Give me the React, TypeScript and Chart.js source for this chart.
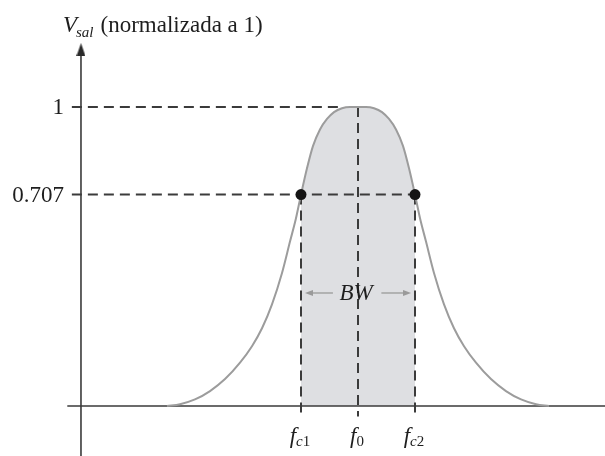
import React, { useEffect, useRef } from 'react';
import { Chart, registerables } from 'chart.js';

Chart.register(...registerables);

// ---- data (frequency in arbitrary units, output normalised to 1) ----
const CURVE_F = [1.649, 1.877, 2.14, 2.404, 2.667, 2.93, 3.14, 3.316, 3.491, 3.667, 3.807, 3.912, 4.0, 4.105, 4.211, 4.333, 4.456, 4.579, 4.719, 4.86, 5.0,
  5.14, 5.281, 5.421, 5.544, 5.667, 5.789, 5.895, 6.0, 6.088, 6.193, 6.333, 6.509, 6.684, 6.86, 7.07, 7.333, 7.596, 7.86, 8.123, 8.351];
const CURVE_V = [0, 0.006, 0.022, 0.05, 0.09, 0.145, 0.2, 0.26, 0.34, 0.445, 0.55, 0.628, 0.707, 0.795, 0.87, 0.925, 0.96, 0.983, 0.996, 1.0, 1.0,
  1.0, 0.996, 0.983, 0.96, 0.925, 0.87, 0.795, 0.707, 0.628, 0.55, 0.445, 0.34, 0.26, 0.2, 0.145, 0.09, 0.05, 0.022, 0.006, 0];

const FC1 = 4;
const F0 = 5;
const FC2 = 6;
const PEAK = 1;
const HALF_POWER = 0.707;
const PEAK_REACH_F = 4.75;
const Y_TICKS = [1, 0.707];
const Y_TICK_LABELS = ['1', '0.707'];
const X_MARKS = [FC1, F0, FC2];
const X_LABEL_BASE = ['f', 'f', 'f'];
const X_LABEL_SUB_ITALIC = ['c', '', 'c'];
const X_LABEL_SUB_ROMAN = ['1', '0', '2'];
const BW_LEVEL = 0.378;
const BW_ARROW_F = [4.14, 4.56, 5.41, 5.86];
const TITLE_MAIN = 'V';
const TITLE_SUB = 'sal';
const TITLE_REST = '(normalizada a 1)';

// ---- axis geometry (view window) ----
const AXIS_F = 0.14;
const X_MIN = -1.2807;
const X_MAX = 9.3333;
const Y_MIN = -0.1672;
const Y_MAX = 1.3579;
const ARROW_V = 1.192;
const DASH_START_F = -0.02;
const DASH_BELOW = -0.035;
const XAXIS_START = -0.1;

const SERIF = '"Liberation Serif", "Times New Roman", serif';

function makeArrow(w: number, h: number, dir: 'up' | 'left' | 'right', color: string) {
  const c = document.createElement('canvas');
  c.width = w;
  c.height = h;
  const g = c.getContext('2d')!;
  g.fillStyle = color;
  g.beginPath();
  if (dir === 'up') {
    g.moveTo(w / 2, 0);
    g.lineTo(w, h);
    g.lineTo(0, h);
  } else if (dir === 'left') {
    g.moveTo(0, h / 2);
    g.lineTo(w, 0);
    g.lineTo(w, h);
  } else {
    g.moveTo(w, h / 2);
    g.lineTo(0, 0);
    g.lineTo(0, h);
  }
  g.closePath();
  g.fill();
  return c;
}

const textPlugin = {
  id: 'schematicText',
  afterDraw(chart: any) {
    const { ctx } = chart;
    const xs = chart.scales.x;
    const ys = chart.scales.y;
    const ax = xs.getPixelForValue(AXIS_F);
    ctx.save();
    ctx.fillStyle = '#1e1e1e';

    // y tick labels
    ctx.font = `23px ${SERIF}`;
    ctx.textAlign = 'right';
    ctx.textBaseline = 'middle';
    Y_TICKS.forEach((v, i) => {
      ctx.fillText(Y_TICK_LABELS[i], ax - 17, ys.getPixelForValue(v) + 1);
    });

    // title
    ctx.textAlign = 'left';
    ctx.textBaseline = 'alphabetic';
    let tx = ax - 18;
    const tBase = 32;
    ctx.font = `italic 23px ${SERIF}`;
    ctx.fillText(TITLE_MAIN, tx, tBase);
    tx += ctx.measureText(TITLE_MAIN).width - 1;
    ctx.font = `italic 15px ${SERIF}`;
    ctx.fillText(TITLE_SUB, tx, tBase + 5);
    tx += ctx.measureText(TITLE_SUB).width + 7;
    ctx.font = `23px ${SERIF}`;
    ctx.fillText(TITLE_REST, tx, tBase);

    // x labels
    const xBase = ys.getPixelForValue(0) + 37;
    X_MARKS.forEach((f, i) => {
      ctx.font = `italic 23px ${SERIF}`;
      const w0 = ctx.measureText(X_LABEL_BASE[i]).width;
      ctx.font = `italic 15px ${SERIF}`;
      const w1 = ctx.measureText(X_LABEL_SUB_ITALIC[i]).width;
      ctx.font = `15px ${SERIF}`;
      const w2 = ctx.measureText(X_LABEL_SUB_ROMAN[i]).width;
      const total = w0 + w1 + w2;
      let px = xs.getPixelForValue(f) - total / 2 - 1;
      ctx.font = `italic 23px ${SERIF}`;
      ctx.fillText(X_LABEL_BASE[i], px, xBase);
      px += w0;
      ctx.font = `italic 15px ${SERIF}`;
      ctx.fillText(X_LABEL_SUB_ITALIC[i], px, xBase + 3);
      px += w1;
      ctx.font = `15px ${SERIF}`;
      ctx.fillText(X_LABEL_SUB_ROMAN[i], px, xBase + 3);
    });

    // BW label
    ctx.font = `italic 23px ${SERIF}`;
    ctx.textAlign = 'center';
    ctx.textBaseline = 'middle';
    ctx.fillText('BW', xs.getPixelForValue(F0) - 2, ys.getPixelForValue(BW_LEVEL) + 1);
    ctx.restore();
  },
};

export default function App() {
  const ref = useRef<HTMLCanvasElement>(null);

  useEffect(() => {
    const curve = CURVE_F.map((f, i) => ({ x: f, y: CURVE_V[i] }));
    const band = curve.filter((p) => p.x >= FC1 && p.x <= FC2);
    const dashStyle = {
      borderColor: '#3b3b3b',
      borderWidth: 2,
      borderDash: [10, 6],
      pointRadius: 0,
      fill: false,
      order: 3,
    };
    const axisStyle = { borderColor: '#3a3a3a', borderWidth: 1.6, pointRadius: 0, fill: false, order: 4 };
    const bwStyle = { borderColor: '#a3a3a3', borderWidth: 1.5, pointRadius: 0, fill: false, order: 3 };

    const chart = new Chart(ref.current!, {
      type: 'line',
      data: {
        datasets: [
          {
            label: 'half-power points',
            data: [
              { x: FC1, y: HALF_POWER },
              { x: FC2, y: HALF_POWER },
            ],
            showLine: false,
            pointRadius: 5.5,
            pointBackgroundColor: '#141414',
            pointBorderWidth: 0,
            order: 0,
          },
          {
            label: 'response',
            data: curve,
            borderColor: '#9c9c9c',
            borderWidth: 2,
            pointRadius: 0,
            cubicInterpolationMode: 'monotone',
            fill: false,
            order: 2,
          },
          { label: 'peak-h', data: [{ x: DASH_START_F, y: PEAK }, { x: PEAK_REACH_F, y: PEAK }], ...dashStyle },
          { label: 'hp-h', data: [{ x: DASH_START_F, y: HALF_POWER }, { x: FC2, y: HALF_POWER }], ...dashStyle },
          { label: 'fc1-v', data: [{ x: FC1, y: HALF_POWER }, { x: FC1, y: DASH_BELOW }], ...dashStyle },
          { label: 'f0-v', data: [{ x: F0, y: PEAK }, { x: F0, y: DASH_BELOW }], ...dashStyle },
          { label: 'fc2-v', data: [{ x: FC2, y: HALF_POWER }, { x: FC2, y: DASH_BELOW }], ...dashStyle },
          { label: 'x-axis', data: [{ x: XAXIS_START, y: 0 }, { x: X_MAX, y: 0 }], ...axisStyle },
          { label: 'y-axis', data: [{ x: AXIS_F, y: Y_MIN }, { x: AXIS_F, y: ARROW_V }], ...axisStyle },
          {
            label: 'y-arrow',
            data: [{ x: AXIS_F, y: ARROW_V }],
            showLine: false,
            pointRadius: 6,
            pointStyle: makeArrow(9, 13, 'up', '#2a2a2a'),
            order: 1,
          },
          { label: 'bw-l', data: [{ x: BW_ARROW_F[0], y: BW_LEVEL }, { x: BW_ARROW_F[1], y: BW_LEVEL }], ...bwStyle },
          { label: 'bw-r', data: [{ x: BW_ARROW_F[2], y: BW_LEVEL }, { x: BW_ARROW_F[3], y: BW_LEVEL }], ...bwStyle },
          {
            label: 'bw-heads',
            data: [
              { x: BW_ARROW_F[0], y: BW_LEVEL },
              { x: BW_ARROW_F[3], y: BW_LEVEL },
            ],
            showLine: false,
            pointRadius: 4,
            pointStyle: [makeArrow(8, 6, 'left', '#9a9a9a'), makeArrow(8, 6, 'right', '#9a9a9a')] as any,
            order: 1,
          },
          {
            label: 'band',
            data: band,
            borderWidth: 0,
            borderColor: 'rgba(0,0,0,0)',
            backgroundColor: 'rgb(222,223,226)',
            pointRadius: 0,
            cubicInterpolationMode: 'monotone',
            fill: 'origin',
            order: 10,
          },
        ] as any,
      },
      options: {
        animation: false,
        responsive: false,
        maintainAspectRatio: false,
        layout: { padding: 0, autoPadding: false } as any,
        events: [],
        scales: {
          x: { type: 'linear', min: X_MIN, max: X_MAX, display: false },
          y: { type: 'linear', min: Y_MIN, max: Y_MAX, display: false },
        },
        plugins: {
          legend: { display: false },
          tooltip: { enabled: false },
          filler: { drawTime: 'beforeDatasetsDraw' },
        } as any,
      },
      plugins: [textPlugin],
    });
    return () => chart.destroy();
  }, []);

  return (
    <div style={{ position: 'fixed', left: 0, top: 0, width: 605, height: 456, background: '#fff' }}>
      <canvas ref={ref} width={605} height={456} style={{ display: 'block', width: 605, height: 456 }} />
    </div>
  );
}
